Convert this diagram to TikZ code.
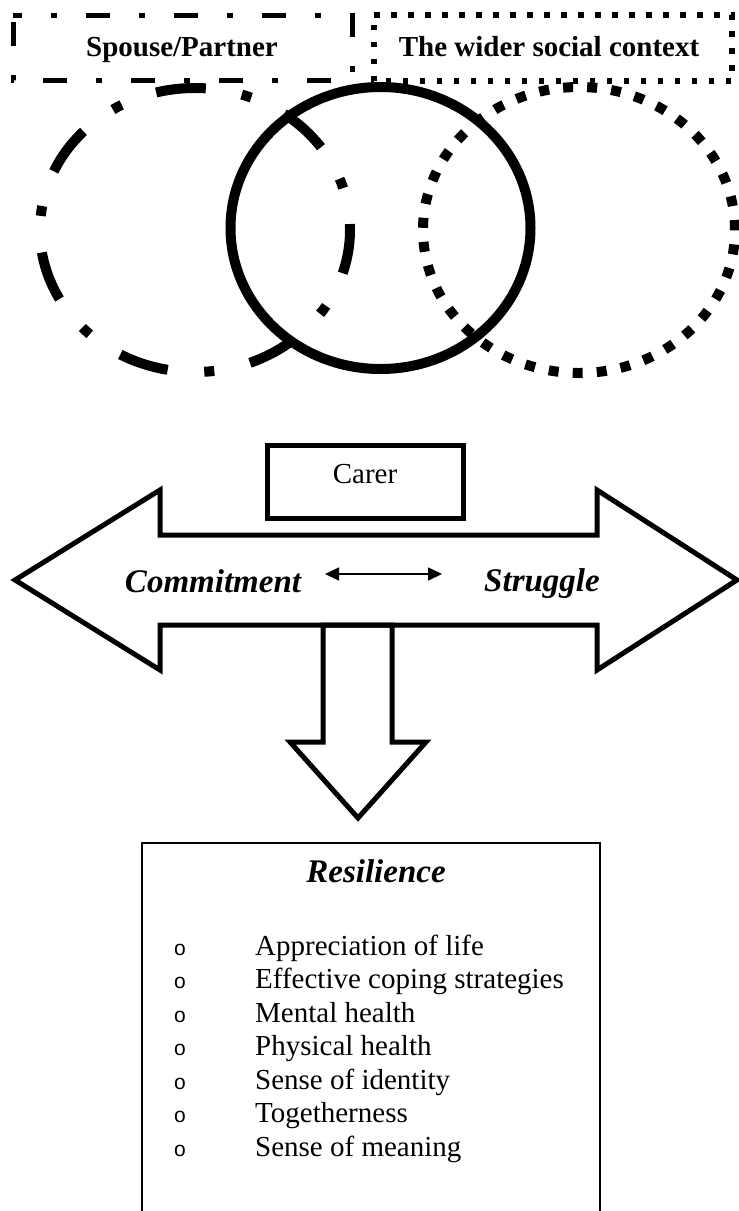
\documentclass[tikz,border=0pt]{standalone}
\usepackage{fontspec}
\setmainfont{Liberation Serif}
\newfontfamily\bulletfont{Liberation Sans}
\usetikzlibrary{arrows.meta}
\begin{document}
\begin{tikzpicture}[x=1pt,y=1pt,
  holder/.style={draw=none, inner sep=0pt, outer sep=0pt},
  boldtext/.style={font=\fontsize{29}{34}\selectfont\bfseries, inner sep=0pt, anchor=base},
  regtext/.style={font=\fontsize{29}{34}\selectfont, inner sep=0pt, anchor=base},
  headtext/.style={font=\fontsize{33}{38}\selectfont\bfseries\itshape, inner sep=0pt, anchor=base},
  itemtext/.style={font=\fontsize{29}{34}\selectfont, inner sep=0pt, anchor=base west},
  bullettext/.style={font=\bulletfont\fontsize{21}{24}\selectfont, inner sep=0pt, anchor=base},
  dashdotbox/.style={line width=5pt, dash pattern=on 24pt off 29pt on 6pt off 29pt, dash phase=15pt},
  dotbox/.style={line width=5.5pt, dash pattern=on 5.5pt off 11.5pt},
  dashdotcircle/.style={line width=10pt, dash pattern=on 50pt off 36.7pt on 10pt off 36.7pt},
  dotcircle/.style={line width=10pt, dash pattern=on 10pt off 14.09pt},
  solidcircle/.style={line width=10pt},
  outline/.style={line width=5pt, line join=miter},
  thinbox/.style={line width=2.5pt},
  smallarrow/.style={line width=1.5pt, {Triangle[length=14pt,width=13pt]}-{Triangle[length=14pt,width=13pt]}}
]
\useasboundingbox (0,0) rectangle (739,-1211);

% top boxes
\node[holder, minimum width=339pt, minimum height=65pt] (spouse) at (182.5,-47.5) {};
\node[boldtext] (spousetxt) at (182,-56) {Spouse/Partner};
\draw[dashdotbox] (spouse.north west) -- (spouse.north east) -- (spouse.south east) -- (spouse.south west) -- cycle;

\node[holder, minimum width=358pt, minimum height=66pt] (wider) at (553,-48) {};
\node[boldtext] (widertxt) at (549,-56) {The wider social context};
\draw[dotbox] (wider.north west) -- (wider.north east) -- (wider.south east) -- (wider.south west) -- cycle;

% circles
\coordinate (cleft) at (195,-230);
\coordinate (cmid) at (380.5,-228);
\coordinate (cright) at (579,-230);
\draw[dashdotcircle] (cleft) ++(86:155pt and 142pt) arc[start angle=86, delta angle=360, x radius=155pt, y radius=142pt];
\draw[dotcircle] (cright) ++(0:156pt and 143pt) arc[start angle=0, delta angle=360, x radius=156pt, y radius=143pt];
\draw[solidcircle] (cmid) ellipse[x radius=150pt, y radius=141pt];

% carer
\node[holder, minimum width=196pt, minimum height=73pt] (carer) at (365,-481.5) {};
\draw[outline] (carer.north west) rectangle (carer.south east);
\node[regtext] (carertxt) at (365,-483) {Carer};

% big double arrow
\draw[outline] (15,-580) -- (160,-490) -- (160,-535) -- (597,-535) -- (597,-490) -- (737,-580)
  -- (597,-670) -- (597,-625) -- (160,-625) -- (160,-670) -- cycle;
% down arrow
\draw[outline] (323,-625) -- (323,-742) -- (290,-742) -- (358,-818) -- (426,-742) -- (392,-742) -- (392,-625) -- cycle;

\node[headtext] (commit) at (213,-592) {Commitment};
\node[headtext] (struggle) at (542,-591) {Struggle};
\coordinate (la) at (325,-574);
\coordinate (ra) at (442,-574);
\draw[smallarrow] (la) -- (ra);

% resilience box
\draw[thinbox] (142,-1220) -- (142,-843) -- (600,-843) -- (600,-1220);
\node[headtext] (resil) at (376,-882) {Resilience};

\foreach \t [count=\i from 0] in {Appreciation of life, Effective coping strategies, Mental health, Physical health, Sense of identity, Togetherness, Sense of meaning} {
  \node[bullettext] (b\i) at (180,-955-33.5*\i) {o};
  \node[itemtext] (item\i) at (255,-955-33.5*\i) {\t};
}
\end{tikzpicture}
\end{document}
